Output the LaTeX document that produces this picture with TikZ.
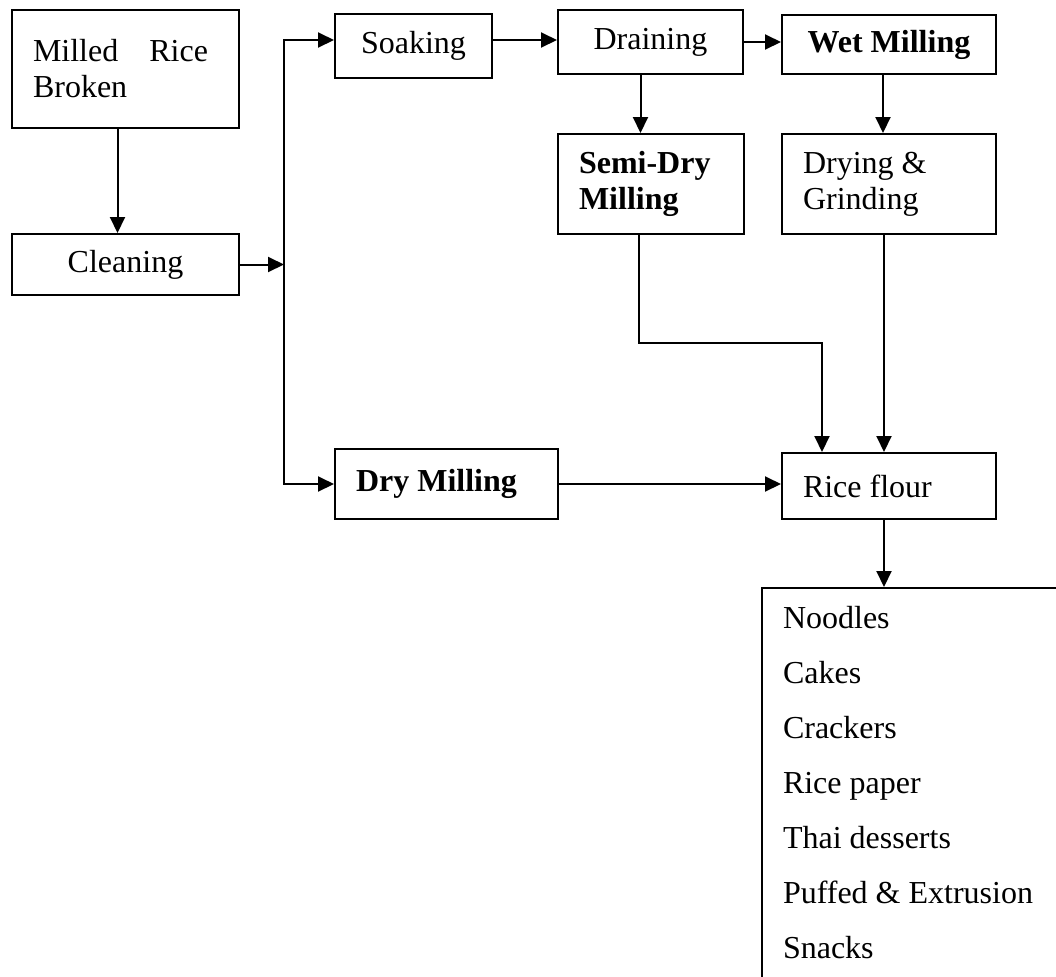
\documentclass[tikz,border=0pt]{standalone}
\usepackage{fontspec}
\setmainfont{Liberation Serif}
\usetikzlibrary{arrows.meta}
\tikzset{
  stage/.style={draw,line width=1pt,anchor=north west,inner xsep=10.5pt,inner ysep=0pt,
    font=\fontsize{16pt}{18pt}\selectfont},
  flow/.style={->,line width=1pt}
}

\begin{document}
\begin{tikzpicture}[x=0.5pt,y=-0.5pt,>={Triangle[length=8pt,width=7.5pt]}]
            \useasboundingbox (0,0) rectangle (1056,976);
            \clip (0,0) rectangle (1056,976);
            % left column
            \node[stage,text width=92.5pt,minimum height=59pt,align=flush left] (mill) at (11,9){Milled\hspace{15.5pt}Rice\\Broken\\[2pt]};
            \node[stage,text width=92.5pt,minimum height=30.5pt,align=flush center] (clean) at (11,233){Cleaning};
            % top row
            \node[stage,text width=57.5pt,minimum height=32pt,align=flush center] (soak) at (334,13){Soaking};
            \node[stage,text width=71.5pt,minimum height=32pt,align=flush center] (drain) at (557,9){Draining};
            \node[stage,text width=86pt,minimum height=29.5pt,align=flush center] (wet) at (781,14){\textbf{Wet Milling}};
            \node[stage,text width=72pt,minimum height=50pt,align=flush left] (semi) at (557,133){\textbf{Semi-Dry}\\\textbf{Milling}};
            \node[stage,text width=86pt,minimum height=50pt,align=flush left] (grind) at (781,133){Drying \&\\Grinding};
            % bottom row
            \node[stage,text width=90.5pt,minimum height=35pt,align=flush left] (drymill) at (334,448){\textbf{Dry Milling}};
            \node[stage,text width=86pt,minimum height=33pt,align=flush left] (flour) at (781,452){Rice flour};
            \node[stage,text width=250pt,inner ysep=9pt,align=flush left,font=\fontsize{16pt}{27.5pt}\selectfont] (uses) at (761,587){Noodles\\Cakes\\Crackers\\Rice paper\\Thai desserts\\Puffed \& Extrusion\\Snacks\\[20pt]\mbox{}};
            \coordinate (split) at ([xshift=22pt]clean.east);
            \coordinate (bend) at (822,343);
            % arrows
            \draw[flow] ([xshift=-4pt]mill.south) -- ([xshift=-4pt]mill.south |- clean.north);
            \draw[flow] (clean.east) -- (split);
            \draw[flow] (split) |- ([yshift=3pt]soak.west);
            \draw[flow] (split) |- (drymill.west);
            \draw[flow] ([yshift=3pt]soak.east) -- ([yshift=3pt]soak.east -| drain.west);
            \draw[flow] (drain.east) -- (drain.east -| wet.west);
            \draw[flow] ([xshift=-5pt]drain.south) -- ([xshift=-5pt]drain.south |- semi.north);
            \draw[flow] ([xshift=-3pt]wet.south) -- ([xshift=-3pt]wet.south |- grind.north);
            \draw[flow] ([xshift=-6pt]semi.south) |- (bend) -- (bend |- flour.north);
            \draw[flow] ([xshift=-2.5pt]grind.south) -- ([xshift=-2.5pt]grind.south |- flour.north);
            \draw[flow] (drymill.east) -- (drymill.east -| flour.west);
            \draw[flow] ([xshift=-2.5pt]flour.south) -- ([xshift=-2.5pt]flour.south |- uses.north);
        \end{tikzpicture}
\end{document}
